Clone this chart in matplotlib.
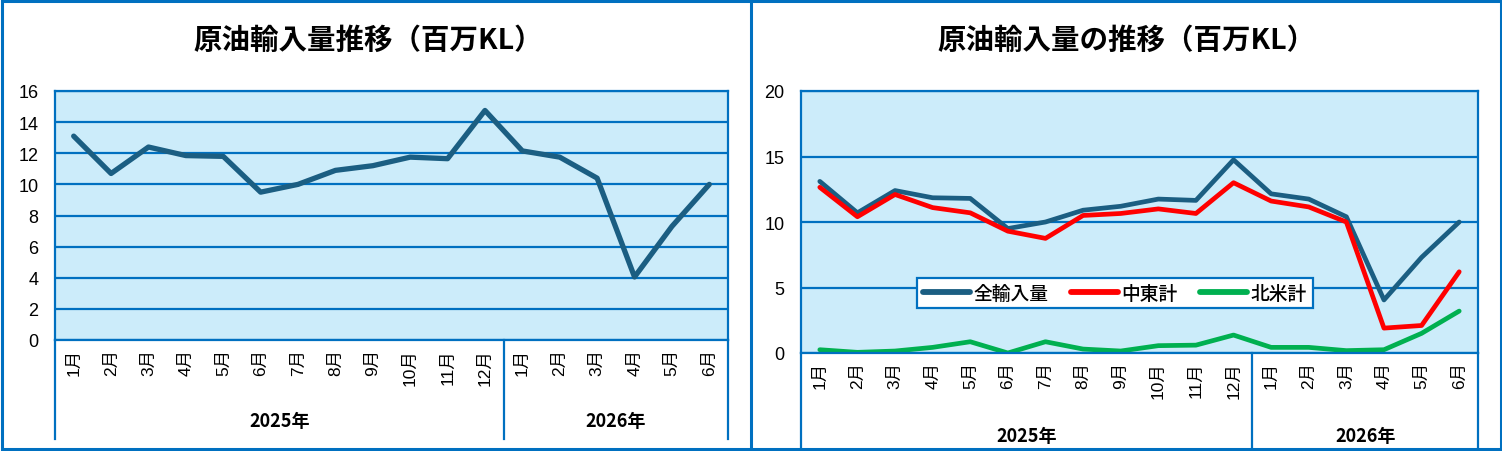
import matplotlib
matplotlib.use("Agg")
import matplotlib.pyplot as plt
from matplotlib.lines import Line2D
from matplotlib.patches import Rectangle

plt.rcParams['font.family'] = ['Noto Sans CJK JP', 'DejaVu Sans']
TICK_FONT = ['Liberation Sans', 'Noto Sans CJK JP']

months = ['1月', '2月', '3月', '4月', '5月', '6月', '7月', '8月', '9月', '10月', '11月', '12月',
          '1月', '2月', '3月', '4月', '5月', '6月']
years = ['2025年', '2026年']
year_len = [12, 6]

total = [13.1, 10.7, 12.4, 11.85, 11.8, 9.5, 10.0, 10.9, 11.2, 11.75, 11.65, 14.75,
         12.15, 11.75, 10.4, 4.05, 7.3, 10.0]
middle_east = [12.65, 10.4, 12.1, 11.1, 10.7, 9.3, 8.75, 10.5, 10.65, 11.0, 10.65, 13.0,
               11.6, 11.15, 10.0, 1.9, 2.1, 6.2]
north_america = [0.25, 0.05, 0.15, 0.43, 0.86, 0.0, 0.86, 0.3, 0.15, 0.56, 0.6, 1.37,
                 0.43, 0.43, 0.18, 0.25, 1.5, 3.2]

BLUE = '#0070C0'
BG = '#CCECFA'
W, H = 1502, 452

fig = plt.figure(figsize=(W / 100, H / 100), dpi=100)


def fx(px):
    return px / W


def fy(py):
    return 1 - py / H


# panel borders
fig.add_artist(Rectangle((fx(1.5), fy(450)), fx(1499), (449 - 1) / H, transform=fig.transFigure,
                         fill=False, edgecolor=BLUE, lw=2.2))
fig.add_artist(Line2D([fx(751), fx(751)], [fy(0), fy(450)], transform=fig.transFigure,
                      color=BLUE, lw=2.2))


def make_axes(x0, x1, y0, y1, ymax, ystep, ybottom):
    ax = fig.add_axes([fx(x0), fy(y1), fx(x1 - x0), (y1 - y0) / H])
    ax.set_facecolor(BG)
    ax.set_xlim(-0.5, len(months) - 0.5)
    ax.set_ylim(0, ymax)
    ax.set_yticks(range(0, ymax + 1, ystep))
    ax.grid(axis='y', color=BLUE, lw=1.6)
    ax.set_axisbelow(True)
    for s in ax.spines.values():
        s.set_color(BLUE)
        s.set_linewidth(1.6)
    ax.set_xticks(range(len(months)))
    ax.set_xticklabels(months, rotation=90, fontsize=12.5, family=TICK_FONT)
    ax.tick_params(axis='x', length=0, pad=6)
    ax.tick_params(axis='y', length=0, pad=12, labelsize=13)
    for t in ax.get_yticklabels():
        t.set_fontfamily(TICK_FONT)
    # category group separators
    pos = -0.5
    bottom_ax = (y1 - ybottom) / (y1 - y0)
    seps = [pos]
    for yl, n in zip(years, year_len):
        seps.append(pos + n)
        pos += n
    for s in seps:
        ax.add_line(Line2D([s, s], [0, bottom_ax], transform=ax.get_xaxis_transform(),
                           color=BLUE, lw=1.6, clip_on=False))
    return ax


def year_labels(ax, ypx, y0, y1):
    pos = -0.5
    for yl, n in zip(years, year_len):
        ax.text(pos + n / 2, (y1 - ypx) / (y1 - y0), yl, transform=ax.get_xaxis_transform(),
                ha='center', va='center', fontsize=13, fontweight='bold')
        pos += n


# left chart
ax1 = make_axes(55, 728, 92, 341, 16, 2, 440)
ax1.plot(range(len(total)), total, color='#1B5E82', lw=3.8, solid_capstyle='round')
year_labels(ax1, 422, 92, 341)
fig.text(fx(368), fy(41), '原油輸入量推移（百万KL）', ha='center', va='center',
         fontsize=20.5, fontweight='bold')

# right chart
ax2 = make_axes(801, 1478, 92, 354, 20, 5, 450)
x = range(len(months))
ax2.plot(x, total, color='#1B5E82', lw=3.4, solid_capstyle='round', label='全輸入量')
ax2.plot(x, middle_east, color='#FF0000', lw=3.4, solid_capstyle='round', label='中東計')
ax2.plot(x, north_america, color='#00B050', lw=3.4, solid_capstyle='round', label='北米計')
year_labels(ax2, 437, 92, 354)
fig.text(fx(1127), fy(41), '原油輸入量の推移（百万KL）', ha='center', va='center',
         fontsize=20.5, fontweight='bold')

leg = ax2.legend(loc='center', bbox_to_anchor=(fx(1115), fy(294)), bbox_transform=fig.transFigure,
                 ncol=3, fontsize=13.5, frameon=True, fancybox=False, framealpha=1,
                 edgecolor=BLUE, handlelength=2.5, columnspacing=1.2, borderpad=0.3,
                 handletextpad=0.2)
leg.get_frame().set_linewidth(1.6)
for ln in leg.get_lines():
    ln.set_linewidth(4.2)
for t in leg.get_texts():
    t.set_fontweight('medium')

fig.savefig('out.png', dpi=100)
